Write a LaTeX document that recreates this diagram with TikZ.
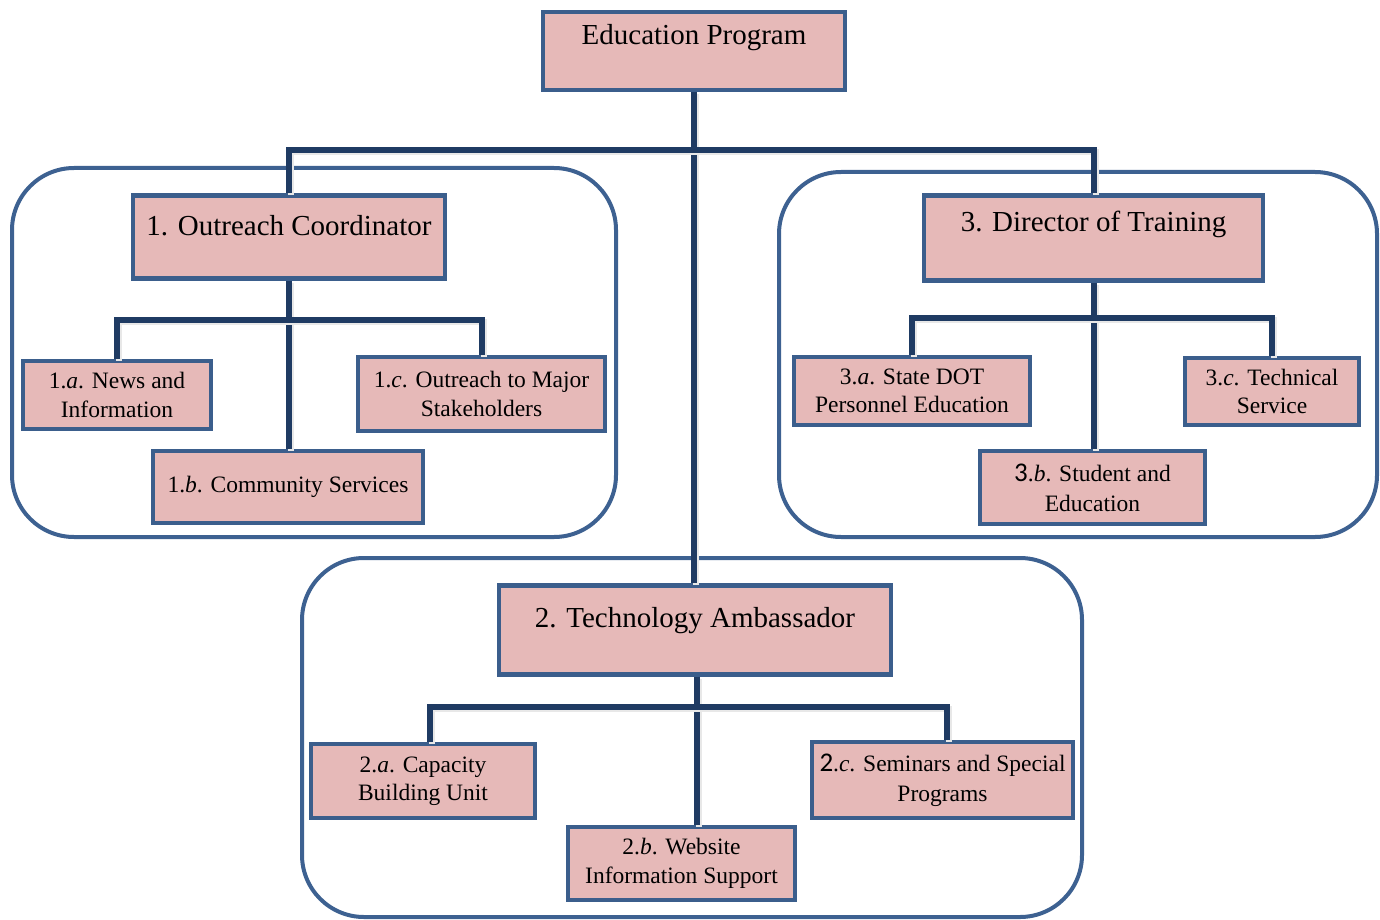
\documentclass[tikz,border=0pt]{standalone}
\usepackage{fontspec}
\setmainfont{Liberation Serif}
\newfontfamily\numfont{Carlito}
\definecolor{boxfill}{HTML}{E6B9B8}
\definecolor{boxline}{HTML}{3B5E8C}
\definecolor{connline}{HTML}{1F3B63}
\definecolor{frameline}{HTML}{3D6191}
\begin{document}
\begin{tikzpicture}[x=1pt,y=-1pt,
  box/.style={draw=boxline, fill=boxfill, line width=4.5pt, inner sep=0pt, align=center,
    font=\fontsize{23.5}{28.5}\selectfont},
  bigbox/.style={box, font=\fontsize{29}{34}\selectfont},
  conn/.style={draw=connline, line width=6pt,
    preaction={draw=black!9, line width=6pt, transform canvas={xshift=2pt,yshift=-2pt}}},
  framebox/.style={draw=frameline, line width=4pt, rounded corners=62pt, inner sep=0pt}]
\useasboundingbox (0,0) rectangle (1380,920);

% group frames
\node[framebox, minimum width=604pt, minimum height=369pt] (g1) at (314,352.5) {};
\node[framebox, minimum width=598pt, minimum height=365pt] (g3) at (1078,354.5) {};
\node[framebox, minimum width=780pt, minimum height=359pt] (g2) at (692,737.5) {};

% connector bar coordinates
\coordinate (bar0) at (694,150);
\coordinate (bar1) at (289,320);
\coordinate (bar3) at (1092,318);
\coordinate (bar2) at (697,707);
\coordinate (d2a) at (430,707);
\coordinate (d2c) at (947,707);

% boxes
\node[bigbox, minimum width=302pt, text height=32pt, text depth=46pt, anchor=north] (top) at (694,10) {Education Program};
\node[bigbox, minimum width=312pt, text height=40pt, text depth=43pt, anchor=north] (b1) at (289,193) {1. Outreach Coordinator};
\node[bigbox, minimum width=339pt, text height=36pt, text depth=49pt, anchor=north] (b3) at (1093.5,193) {3. Director of Training};
\node[bigbox, minimum width=392pt, text height=42pt, text depth=47pt, anchor=north] (b2) at (695,583) {2. Technology Ambassador};

\node[box, minimum width=188pt, minimum height=68pt] (b1a) at (117,395) {1.\textit{a}. News and\\Information};
\node[box, minimum width=247pt, minimum height=74pt] (b1c) at (481.5,394) {1.\textit{c}. Outreach to Major\\Stakeholders};
\node[box, minimum width=270pt, minimum height=72pt] (b1b) at (288,487) {1.\textit{b}. Community Services};

\node[box, minimum width=236pt, minimum height=68pt] (b3a) at (912,391) {3.\textit{a}. State DOT\\Personnel Education};
\node[box, minimum width=174pt, minimum height=67pt] (b3c) at (1272,391.5) {3.\textit{c}. Technical\\Service};
\node[box, minimum width=225pt, minimum height=73pt, font=\fontsize{23.5}{30}\selectfont] (b3b) at (1092.5,487.5) {{\numfont\fontsize{27}{30}\selectfont 3}.\textit{b}. Student and\\Education};

\node[box, minimum width=224pt, minimum height=74pt] (b2a) at (423,781) {2.\textit{a}. Capacity\\Building Unit};
\node[box, minimum width=261pt, minimum height=76pt, font=\fontsize{23.5}{30}\selectfont] (b2c) at (942.5,780) {{\numfont\fontsize{27}{30}\selectfont 2}.\textit{c}. Seminars and Special\\Programs};
\node[box, minimum width=227pt, minimum height=73pt] (b2b) at (681.5,863.5) {2.\textit{b}. Website\\Information Support};

% connectors
\draw[conn] (top.south) -- (top.south |- b2.north);
\draw[conn] (b1.north) |- (bar0) -| (b3.north);
\draw[conn] (b1.south) -- (b1.south |- b1b.north);
\draw[conn] (b1a.north) |- (bar1) -| (b1c.north);
\draw[conn] (b3.south) -- (b3.south |- b3b.north);
\draw[conn] (b3a.north) |- (bar3) -| (b3c.north);
\draw[conn] (bar2 |- b2.south) -- (bar2 |- b2b.north);
\draw[conn] (d2a |- b2a.north) -- (d2a) -- (d2c) -- (d2c |- b2c.north);
\end{tikzpicture}
\end{document}
